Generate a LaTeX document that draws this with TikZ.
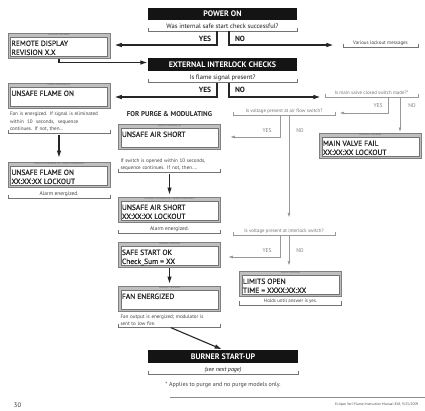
\documentclass[tikz,border=0pt]{standalone}
\usepackage{fontspec}
\setmainfont{PT Sans}
\newfontfamily\lcdf[FakeBold=0.5]{PT Sans}
\usetikzlibrary{arrows.meta}
\tikzset{
  bar/.style={fill=black!92, text=white, font=\bfseries\fontsize{8}{9}\selectfont, minimum width=149pt, minimum height=12.5pt, inner sep=0pt},
  qtxt/.style={font=\fontsize{6.5}{7.5}\selectfont, text=black!90, inner xsep=0pt, inner ysep=1.5pt, text height=4.6pt, text depth=1.4pt},
  gtxt/.style={font=\fontsize{4.9}{6}\selectfont, text=black!55, inner xsep=0pt, inner ysep=1.5pt, text height=3.6pt, text depth=1.1pt},
  ntxt/.style={font=\fontsize{5.1}{7.5}\selectfont, text=black!75, inner xsep=2pt, inner ysep=1.5pt, align=left},
  atxt/.style={font=\fontsize{5.4}{6.5}\selectfont, text=black!75, inner xsep=0pt, inner ysep=1.5pt, text height=4pt, text depth=1.2pt},
  yn/.style={font=\bfseries\fontsize{7.5}{8}\selectfont, text=black!90, inner sep=0pt},
  gyn/.style={font=\fontsize{5.5}{6}\selectfont, text=black!50, inner sep=0pt},
  conn/.style={draw=black!85, line width=1.1pt},
  arr/.style={conn, -{Triangle[length=6.5pt,width=4pt]}},
  gconn/.style={draw=black!40, line width=0.6pt},
  garr/.style={gconn, -{Triangle[length=4pt,width=2.6pt]}},
  lcdout/.style={rectangle, minimum width=102pt, minimum height=25pt, fill=black!25, draw=black!50, line width=0.5pt, inner sep=0pt},
  lcdin/.style={rectangle, minimum width=97pt, minimum height=19pt, fill=white, draw=black!55, line width=0.5pt, inner sep=0pt},
  lcdhd/.style={font=\fontsize{2.6}{3}\selectfont, text=black!60, inner sep=0pt},
  lcdtx/.style={font=\lcdf\fontsize{7.5}{9}\selectfont, align=left, inner sep=0pt, text=black!85},
}
\newcommand\brkn[2][black!55]{\draw[#1, line width=0.5pt] ([yshift=3.5pt]#2.south west) -- (#2.south west) -- (#2.south east) -- ([yshift=3.5pt]#2.south east);}
\newcommand\lcd[5]{%
  \node[lcdout, anchor=north] (#1) at (#2,#3) {};
  \node[lcdin, anchor=south] (#1-in) at ([yshift=2pt]#1.south) {};
  \node[lcdhd] (#1-hd) at ([yshift=-2pt]#1.north) {#4};
  \node[lcdtx, anchor=north west] (#1-tx) at ([xshift=3.5pt,yshift=-7.4pt]#1.north west) {#5};
}
\begin{document}
\begin{tikzpicture}[x=1pt,y=-1pt]
\useasboundingbox[fill=white] (0,0) rectangle (425,410);

% ---------- POWER ON ----------
\node[bar] (pwr) at (222.5,14) {POWER ON};
\node[qtxt, minimum width=149pt] (q1) at (222.5,26.5) {Was internal safe start check successful?};
\brkn{q1}
\node[yn] (y1) at (205,38.5) {YES};
\node[yn] (n1) at (240,38.5) {NO};
\coordinate (y1c) at (217,45);
\coordinate (n1c) at (229,45);

\lcd{rd}{59}{33}{DISPLAY MESSAGE}{REMOTE DISPLAY\\REVISION X.X}
\node[atxt, minimum width=75pt] (various) at (380.5,43) {\fontsize{5}{6}\selectfont Various lockout messages};
\brkn{various}

\draw[arr, shorten >=5pt] (q1.south -| y1c) -- (y1c) -- (rd.east |- y1c);
\draw[arr, shorten >=10pt] (q1.south -| n1c) -- (n1c) -- (various.west |- n1c);

% ---------- EXTERNAL INTERLOCK CHECKS ----------
\node[bar, minimum height=13pt] (ext) at (222.5,64.5) {EXTERNAL INTERLOCK CHECKS};
\draw[arr, shorten >=1pt] (rd.south) |- ([yshift=2pt]ext.west);
\node[qtxt, minimum width=149pt] (q2) at (222.5,78) {Is flame signal present?};
\brkn{q2}
\node[yn] (y2) at (205,89.5) {YES};
\node[yn] (n2) at (240,89.5) {NO};
\coordinate (y2c) at (217,97);
\coordinate (n2c) at (229,97);

\lcd{uf}{59}{83}{CHECK MESSAGE (1)}{UNSAFE FLAME ON\\\mbox{}}
\node[gtxt, minimum width=93pt] (qmv) at (371.5,93) {Is main valve closed switch made?*};
\brkn[black!40]{qmv}
\draw[arr, shorten >=5pt] (q2.south -| y2c) -- (y2c) -- (uf.east |- y2c);
\draw[arr, shorten >=5pt] (q2.south -| n2c) -- (n2c) -- (qmv.west |- n2c);

% ---------- left column ----------
\node[ntxt, text width=98pt, anchor=north] (note1) at (59,110.5)
  {\makebox[98pt][s]{Fan is energized. If signal is eliminated}\\
   \makebox[98pt][s]{within \ 10 \ seconds, \ sequence}\\
   continues. If not, then...};
\brkn{note1}
\lcd{lf}{59}{162}{LOCKOUT MESSAGE (1) - ALARM ENERGIZED}{UNSAFE FLAME ON\\XX:XX:XX LOCKOUT}
\draw[arr, shorten <=2pt, shorten >=5pt] (note1.south) -- (lf.north);
\node[atxt, minimum width=102pt] (alarm1) at (59,194) {Alarm energized.};
\brkn{alarm1}

% ---------- right branch (main valve) ----------
\node[gyn] (y3) at (378,106) {YES};
\node[gyn] (n3) at (412,106) {NO};
\coordinate (y3c) at (388,113);
\coordinate (n3c) at (400,0);
\lcd{mvf}{370.5}{133}{LOCKOUT MESSAGE}{MAIN VALVE FAIL\\XX:XX:XX LOCKOUT}
\node[gtxt, minimum width=102pt] (qaf) at (284,111) {Is voltage present at air flow switch?};
\brkn[black!40]{qaf}
\draw[garr, shorten >=5pt] (qmv.south -| y3c) -- (y3c) -- (qaf.east |- y3c);
\draw[garr, shorten >=1.5pt] (qmv.south -| n3c) -- (mvf.north -| n3c);

% ---------- middle column ----------
\node[font=\bfseries\fontsize{7}{8}\selectfont, text=black!85, inner sep=0pt] (purge) at (169.5,114) {FOR PURGE \& MODULATING};
\lcd{uas}{169.5}{124}{CHECK MESSAGE (4)}{UNSAFE AIR SHORT\\\mbox{}}
\node[gyn] (y4) at (267,131) {YES};
\node[gyn] (n4) at (300,131) {NO};
\coordinate (y4c) at (280,137);
\coordinate (n4c) at (289,0);
\draw[garr, shorten >=10pt] (qaf.south -| y4c) -- (y4c) -- (uas.east |- y4c);

\node[ntxt, text width=98pt, anchor=north, font=\fontsize{5.1}{7}\selectfont] (note2) at (169.5,157)
  {\makebox[98pt][s]{If switch is opened within 10 seconds,}\\
   sequence continues. If not, then....};
\brkn{note2}
\lcd{las}{169.5}{197}{LOCKOUT MESSAGE (4) - ALARM ENERGIZED}{UNSAFE AIR SHORT\\XX:XX:XX LOCKOUT}
\draw[arr, shorten <=2pt, shorten >=3pt] (note2.south) -- (las.north);
\node[atxt, minimum width=102pt] (alarm2) at (169.5,229) {Alarm energized.};
\brkn{alarm2}

\node[gtxt, minimum width=102pt] (qil) at (284,231) {Is voltage present at interlock switch?};
\brkn[black!40]{qil}
\draw[garr, shorten >=10pt] (qaf.south -| n4c) -- (qil.north -| n4c);

\lcd{ss}{169.5}{242}{NORMAL MESSAGE}{SAFE START OK\\Check\_Sum = XX}
\node[gyn] (y5) at (267,251) {YES};
\node[gyn] (n5) at (300,251) {NO};
\coordinate (y5c) at (280,257);
\draw[garr, shorten >=8pt] (qil.south -| y5c) -- (y5c) -- (ss.east |- y5c);

\lcd{lo}{290.5}{271}{CHECK MESSAGE}{LIMITS OPEN\\TIME = XXXX:XX:XX}
\draw[garr, shorten >=6pt] (qil.south -| n4c) -- (lo.north -| n4c);
\node[ntxt, font=\fontsize{4.9}{6}\selectfont, minimum width=102pt, align=center] (holds) at (290.5,301) {Holds until answer is yes.};
\brkn{holds}

\lcd{fe}{169.5}{286}{NORMAL MESSAGE}{FAN ENERGIZED\\\mbox{}}
\draw[arr, shorten >=3pt] (ss.south) -- (fe.north);
\node[ntxt, text width=98pt, anchor=north, font=\fontsize{5.1}{6.5}\selectfont] (note3) at (169.5,313.5)
  {\makebox[98pt][s]{Fan output is energized; modulator is}\\
   sent to low fire.};
\brkn{note3}

% ---------- BURNER START-UP ----------
\node[bar, minimum width=150pt, minimum height=13pt] (bsu) at (223,356.5) {BURNER START-UP};
\draw[arr, shorten <=1.5pt, shorten >=2pt] (note3.south) -- (bsu.north);
\node[qtxt, minimum width=150pt, font=\itshape\fontsize{6}{7}\selectfont] (see) at (223,369.5) {(see next page)};
\brkn{see}
\node[font=\fontsize{6}{7}\selectfont, text=black!75, inner sep=0pt] (appl) at (223,385) {* Applies to purge and no purge models only.};

% ---------- footer ----------
\coordinate (fl1) at (170,397);
\coordinate (fl2) at (425,397);
\draw[black!45, line width=0.8pt] (fl1) -- (fl2);
\node[font=\fontsize{6.5}{7}\selectfont, text=black!80, inner sep=0pt] (pg) at (17.5,405) {30};
\node[font=\fontsize{3.6}{4}\selectfont, text=black!70, inner sep=0pt, anchor=west] (ft) at (335,405) {Eclipse Veri-Flame Instruction Manual 818, 9/25/2009};
\end{tikzpicture}
\end{document}
